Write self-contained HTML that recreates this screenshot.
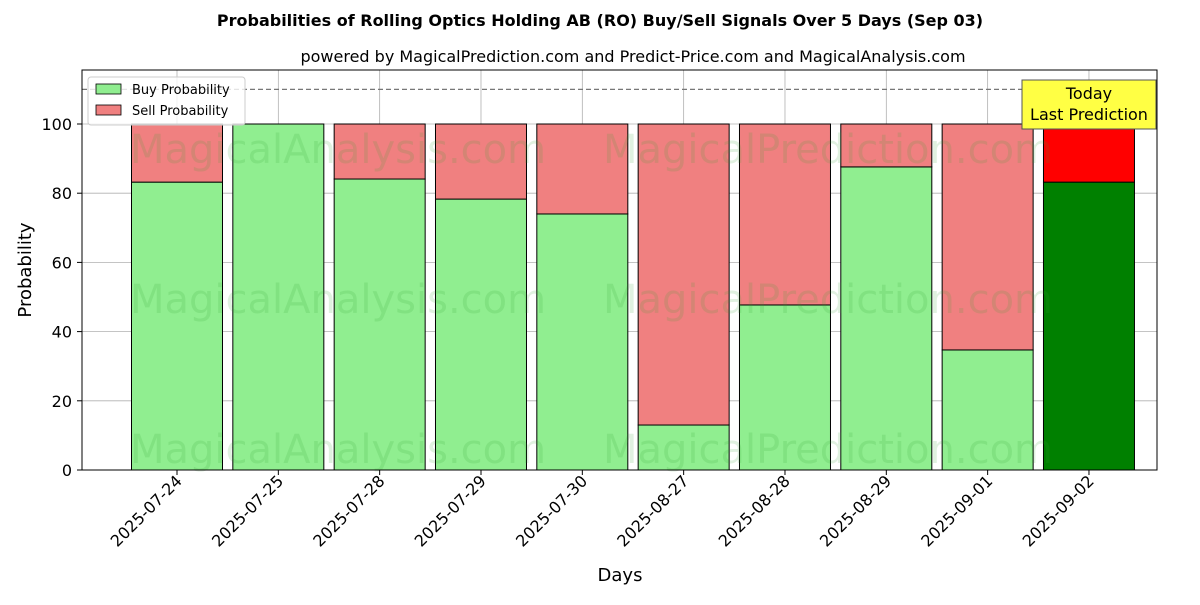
<!DOCTYPE html>
<html><head><meta charset="utf-8"><style>
body{margin:0;background:#fff;}
svg{font-family:"DejaVu Sans","Liberation Sans",sans-serif;}
</style></head><body>
<svg id="chart" width="1200" height="600" xmlns="http://www.w3.org/2000/svg">
<text x="600" y="26" text-anchor="middle" font-size="16" font-weight="bold">Probabilities of Rolling Optics Holding AB (RO) Buy/Sell Signals Over 5 Days (Sep 03)</text>
<text x="633" y="62" text-anchor="middle" font-size="16">powered by MagicalPrediction.com and Predict-Price.com and MagicalAnalysis.com</text>
<g id="grid"></g>
<g id="bars"></g>
<g id="wm" font-size="40" fill="#2ca02c" fill-opacity="0.15">
<text x="130" y="163">MagicalAnalysis.com</text><text x="603" y="163">MagicalPrediction.com</text>
<text x="130" y="313">MagicalAnalysis.com</text><text x="603" y="313">MagicalPrediction.com</text>
<text x="130" y="463">MagicalAnalysis.com</text><text x="603" y="463">MagicalPrediction.com</text>
</g>
<line x1="82" x2="1157" y1="89.4" y2="89.4" stroke="#777" stroke-dasharray="5,3" stroke-width="1.2"/>
<rect x="82" y="70" width="1075" height="400" fill="none" stroke="#000" stroke-width="1"/>
<g id="axes"></g>
<text x="31" y="270" transform="rotate(-90 31 270)" text-anchor="middle" font-size="18">Probability</text>
<text x="620" y="581" text-anchor="middle" font-size="18">Days</text>
<g>
<rect x="88" y="77" width="157" height="48" fill="#fff" fill-opacity="0.8" stroke="#ccc" rx="3"/>
<rect x="96" y="84" width="25" height="10" fill="#90ee90" stroke="#000" stroke-width="0.8"/>
<text x="132" y="94" font-size="13">Buy Probability</text>
<rect x="96" y="105" width="25" height="10" fill="#f08080" stroke="#000" stroke-width="0.8"/>
<text x="132" y="115" font-size="13">Sell Probability</text>
</g>
<g>
<rect x="1022" y="80" width="134" height="49" fill="#ffff44" stroke="#555" stroke-width="1"/>
<text x="1089" y="99" text-anchor="middle" font-size="16">Today</text>
<text x="1089" y="120" text-anchor="middle" font-size="16">Last Prediction</text>
</g>
</svg>
<script>
const dates=["2025-07-24","2025-07-25","2025-07-28","2025-07-29","2025-07-30","2025-08-27","2025-08-28","2025-08-29","2025-09-01","2025-09-02"];
const buyValues=[83.2,100,84.1,78.3,74.0,13.0,47.7,87.6,34.7,83.2];
const sellValues=buyValues.map(v=>100-v);
const yTicks=[0,20,40,60,80,100];
const NS="http://www.w3.org/2000/svg";
const xPos=i=>177+101.33*i;
const yPos=v=>470-v*3.46;
const bw=91;
function mk(tag,attrs,parent,txt){const e=document.createElementNS(NS,tag);for(const k in attrs)e.setAttribute(k,attrs[k]);if(txt!==undefined)e.textContent=txt;parent.appendChild(e);return e;}
const grid=document.getElementById('grid'),bars=document.getElementById('bars'),axes=document.getElementById('axes');
yTicks.forEach(t=>{
  const y=yPos(t);
  const g=mk('line',{x1:82,x2:1157,y1:y,y2:y,stroke:'#b0b0b0','stroke-width':0.8},grid);
  
  
  const tk=mk('line',{x1:77,x2:82,y1:y,y2:y,stroke:'#000'},axes);
  
  
  const l=mk('text',{x:72,y:y+6,'text-anchor':'end','font-size':16},axes,String(t));
  
  
});
dates.forEach((d,i)=>{
  const x=xPos(i);
  const g=mk('line',{x1:x,x2:x,y1:70,y2:470,stroke:'#b0b0b0','stroke-width':0.8},grid);
  
  
  const last=i===dates.length-1;
  const b=mk('rect',{x:x-bw/2,y:yPos(buyValues[i]),width:bw,height:yPos(0)-yPos(buyValues[i]),fill:last?'#008000':'#90ee90',stroke:'#000','stroke-width':1},bars);
  
  
  const s=mk('rect',{x:x-bw/2,y:yPos(buyValues[i]+sellValues[i]),width:bw,height:yPos(buyValues[i])-yPos(buyValues[i]+sellValues[i]),fill:last?'#ff0000':'#f08080',stroke:'#000','stroke-width':1},bars);
  
  
  const tk=mk('line',{x1:x,x2:x,y1:470,y2:475,stroke:'#000'},axes);
  
  
  const l=mk('text',{x:x+6,y:482,'text-anchor':'end','font-size':16,transform:`rotate(-45 ${x+6} 482)`},axes,d);
  
  
});
</script>
</body></html>
